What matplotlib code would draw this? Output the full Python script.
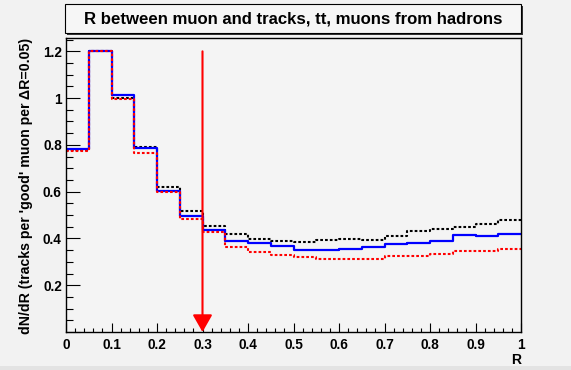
import matplotlib
matplotlib.use("Agg")
import matplotlib.pyplot as plt
from matplotlib.patches import Rectangle
from matplotlib.ticker import MultipleLocator, FuncFormatter
import numpy as np

plt.rcParams['font.family'] = ['Liberation Sans', 'DejaVu Sans']
plt.rcParams['font.weight'] = 'bold'

# histogram bins in R (width 0.05)
edges = np.round(np.arange(0, 1.0001, 0.05), 2)

# blue solid histogram
h_blue = [0.783, 1.201, 1.015, 0.787, 0.603, 0.495, 0.434, 0.388, 0.380, 0.367,
          0.349, 0.351, 0.353, 0.363, 0.377, 0.380, 0.390, 0.414, 0.409, 0.421]
# black dotted histogram
h_black = [0.780, 1.201, 1.000, 0.791, 0.620, 0.518, 0.454, 0.419, 0.397, 0.390,
           0.384, 0.393, 0.396, 0.394, 0.410, 0.431, 0.440, 0.450, 0.463, 0.479]
# red dotted histogram
h_red = [0.773, 1.201, 0.995, 0.767, 0.599, 0.485, 0.426, 0.364, 0.344, 0.328,
         0.321, 0.313, 0.314, 0.310, 0.324, 0.324, 0.335, 0.345, 0.345, 0.353]

cut = 0.3
arrow_top = 1.2

title = "R between muon and tracks, tt, muons from hadrons"
ylabel = "dN/dR (tracks per 'good' muon per \u0394R=0.05)"
xlabel = "R"

bg = '#f2f2f2'
fig = plt.figure(figsize=(5.71, 3.70), dpi=100, facecolor=bg)
ax = fig.add_axes([66/571, 1-332/370, (521-66)/571, (332-38)/370])
ax.set_facecolor('#f4f4f4')

def steps(vals):
    return np.append(vals, vals[-1])

dots = (0, (1.3, 1.0))
ax.step(edges, steps(h_black), where='post', color='black', lw=1.5, ls=dots)
ax.step(edges, steps(h_blue), where='post', color='#0000ff', lw=1.6)
ax.step(edges, steps(h_red), where='post', color='#ff0000', lw=1.5, ls=dots)

ax.annotate('', xy=(cut, 0), xytext=(cut, arrow_top),
            arrowprops=dict(arrowstyle='-|>,head_length=0.7,head_width=0.4',
                            mutation_scale=15, color='red', lw=1.5,
                            shrinkA=0, shrinkB=0))

ax.set_xlim(0, 1)
ax.set_ylim(0, 1.257)

ax.xaxis.set_major_locator(MultipleLocator(0.1))
ax.xaxis.set_minor_locator(MultipleLocator(0.02))
ax.yaxis.set_major_locator(MultipleLocator(0.2))
ax.yaxis.set_minor_locator(MultipleLocator(0.05))
ax.xaxis.set_major_formatter(FuncFormatter(lambda v, p: f'{v:g}'))
ax.yaxis.set_major_formatter(FuncFormatter(lambda v, p: '' if abs(v) < 1e-9 else f'{v:g}'))

ax.tick_params(which='both', direction='in', top=False, right=False, width=0.8,
               labelsize=9.8)
ax.tick_params(axis='x', which='major', length=6.5, pad=4)
ax.tick_params(axis='x', which='minor', length=3.2)
ax.tick_params(axis='y', which='major', length=10, pad=3)
ax.tick_params(axis='y', which='minor', length=5)
for lab in ax.get_xticklabels() + ax.get_yticklabels():
    lab.set_fontweight('bold')
for s in ax.spines.values():
    s.set_linewidth(1.0)

ax.text(1.0, -0.072, xlabel, transform=ax.transAxes, ha='right', va='top',
        fontsize=10, fontweight='bold')
fig.text(26/571, 1-38/370, ylabel, rotation=90, ha='center', va='top',
         fontsize=10.2, fontweight='bold')

# title box with shadow
bx0, bx1 = 65/571, 521/571
by0, by1 = 1-33/370, 1-4/370
fig.patches.append(Rectangle((bx0 + 2/571, by0 - 2/370), bx1 - bx0, by1 - by0,
                             transform=fig.transFigure, facecolor='#333333',
                             edgecolor='none', zorder=1))
fig.patches.append(Rectangle((bx0, by0), bx1 - bx0, by1 - by0,
                             transform=fig.transFigure, facecolor='#f6f6f6',
                             edgecolor='black', lw=0.8, zorder=2))
fig.text((bx0 + bx1) / 2, (by0 + by1) / 2, title, ha='center', va='center',
         fontsize=12.1, fontweight='bold', zorder=3)

# canvas border
fig.patches.append(Rectangle((0, 0), 1, 4/370, transform=fig.transFigure,
                             facecolor='#e3e3e3', edgecolor='none', zorder=0))

fig.savefig('out.png', dpi=100, facecolor=bg)
